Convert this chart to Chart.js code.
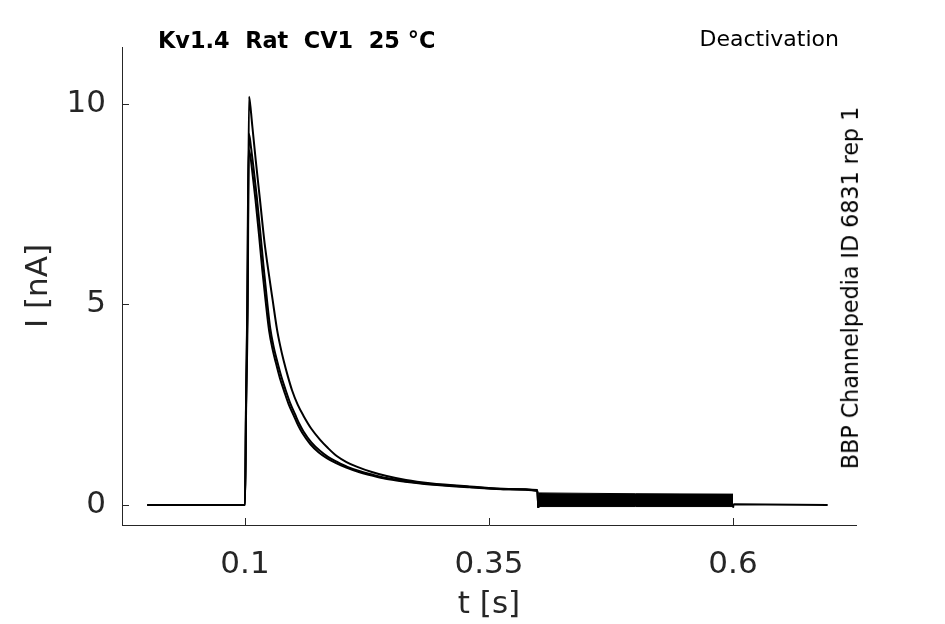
<!DOCTYPE html>
<html>
<head>
<meta charset="utf-8">
<script src="https://cdn.jsdelivr.net/npm/chart.js"></script>
<style>
    body { margin: 0; background: #fff; }
    #wrap { position: relative; width: 945px; height: 624px; font-family: "DejaVu Sans", sans-serif; color: #000; }
    #chart { position: absolute; left: 0; top: 0; }
    .note { position: absolute; white-space: nowrap; line-height: 1; }
    #title { left: 158px; top: 40px; font-size: 22.4px; font-weight: bold; transform: translateY(-50%); }
    #protocol { right: 106px; top: 39px; font-size: 22px; transform: translateY(-50%); }
    #source { left: 850px; top: 288px; font-size: 22.2px; transform: translate(-50%, -50%) rotate(-90deg); }
</style>
</head>
<body>
<div id="wrap">
    <canvas id="chart" width="945" height="624"></canvas>
    <div class="note" id="title">Kv1.4&nbsp; Rat&nbsp; CV1&nbsp; 25 °C</div>
    <div class="note" id="protocol">Deactivation</div>
    <div class="note" id="source">BBP Channelpedia ID 6831 rep 1</div>
</div>
<script>
// Current traces (time in s, current in nA)
const tTraceA = [0, 0.1, 0.1012, 0.1028, 0.1041, 0.1055, 0.1075, 0.1110, 0.1154, 0.1200, 0.1245, 0.1284, 0.1328, 0.1360, 0.1396, 0.1440, 0.1482, 0.1540, 0.1600, 0.1680, 0.1768, 0.1850, 0.1940, 0.2040, 0.2144, 0.2300, 0.2452, 0.2650, 0.2895, 0.3300, 0.3700, 0.3995, 0.4005];
const iTraceA = [0, 0, 2.5, 5.0, 10.18, 9.95, 9.45, 8.60, 7.60, 6.55, 5.75, 5.10, 4.38, 3.98, 3.60, 3.20, 2.86, 2.50, 2.22, 1.90, 1.63, 1.42, 1.22, 1.07, 0.955, 0.82, 0.72, 0.62, 0.54, 0.46, 0.40, 0.37, -0.07];

const tTraceB = [0, 0.1, 0.1010, 0.1024, 0.1041, 0.1060, 0.1090, 0.1120, 0.1155, 0.1190, 0.1225, 0.1259, 0.1295, 0.1328, 0.1370, 0.1413, 0.1460, 0.1515, 0.1555, 0.1598, 0.1680, 0.1768, 0.1850, 0.1940, 0.2050, 0.2178, 0.2300, 0.2452, 0.2650, 0.2895, 0.3300, 0.3700, 0.3995, 0.4005];
const iTraceB = [0, 0, 2.4, 4.8, 9.25, 8.95, 8.35, 7.70, 6.85, 5.95, 5.12, 4.40, 3.93, 3.60, 3.22, 2.89, 2.56, 2.25, 2.03, 1.84, 1.56, 1.35, 1.20, 1.08, 0.95, 0.84, 0.76, 0.67, 0.59, 0.52, 0.45, 0.39, 0.36, -0.07];

const tTraceC = [0, 0.1, 0.1010, 0.1022, 0.1037, 0.1055, 0.1080, 0.1108, 0.1143, 0.1178, 0.1213, 0.1247, 0.1283, 0.1316, 0.1358, 0.1401, 0.1448, 0.1503, 0.1543, 0.1586, 0.1668, 0.1756, 0.1838, 0.1928, 0.2038, 0.2166, 0.2288, 0.2440, 0.2640, 0.2895, 0.3300, 0.3700, 0.3995, 0.4005];
const iTraceC = [0, 0, 2.3, 4.7, 8.85, 8.70, 8.20, 7.60, 6.75, 5.85, 5.05, 4.35, 3.88, 3.55, 3.16, 2.84, 2.51, 2.21, 1.99, 1.80, 1.52, 1.31, 1.17, 1.05, 0.93, 0.82, 0.74, 0.65, 0.58, 0.51, 0.44, 0.39, 0.35, -0.07];

// Noisy band during the deactivation step
const tBand = [0.4005, 0.5, 0.6];
const iBandTop = [0.30, 0.28, 0.27];
const iBandBottom = [-0.04, -0.04, -0.04];

// Back to holding after the step
const tTail = [0.6, 0.6008, 0.697];
const iTail = [-0.07, 0.02, 0.0];

// Axes
const xTicks = [0.1, 0.35, 0.6];
const yTicks = [0, 5, 10];
const xRange = [-0.026, 0.726];
const yRange = [-0.5, 11.42];

const inkColor = '#262626';
const fontFamily = '"DejaVu Sans", sans-serif';

function toPoints(ts, is) {
    return ts.map((t, k) => ({ x: t, y: is[k] }));
}

function traceDataset(ts, is) {
    return {
        data: toPoints(ts, is),
        borderColor: '#000',
        borderWidth: 2,
        pointRadius: 0,
        cubicInterpolationMode: 'monotone',
        borderJoinStyle: 'round',
        fill: false
    };
}

// Small inward tick marks, like the original plot
const inwardTicks = {
    id: 'inwardTicks',
    afterDraw(chart) {
        const { ctx, chartArea, scales } = chart;
        ctx.save();
        ctx.strokeStyle = inkColor;
        ctx.lineWidth = 1;
        ctx.beginPath();
        xTicks.forEach(v => {
            const px = Math.round(scales.x.getPixelForValue(v)) + 0.5;
            ctx.moveTo(px, chartArea.bottom);
            ctx.lineTo(px, chartArea.bottom - 7);
        });
        yTicks.forEach(v => {
            const py = Math.round(scales.y.getPixelForValue(v)) + 0.5;
            ctx.moveTo(chartArea.left, py);
            ctx.lineTo(chartArea.left + 7, py);
        });
        ctx.stroke();
        ctx.restore();
    }
};

function buildChart() {
    const ctx = document.getElementById('chart');

    const bandTop = traceDataset(tBand, iBandTop);
    bandTop.borderWidth = 1;
    const bandBottom = traceDataset(tBand, iBandBottom);
    bandBottom.borderWidth = 1;
    bandBottom.fill = '-1';
    bandBottom.backgroundColor = '#000';

    new Chart(ctx, {
        type: 'line',
        data: {
            datasets: [
                traceDataset(tTraceA, iTraceA),
                traceDataset(tTraceB, iTraceB),
                traceDataset(tTraceC, iTraceC),
                bandTop,
                bandBottom,
                traceDataset(tTail, iTail)
            ]
        },
        options: {
            responsive: false,
            animation: false,
            layout: { padding: { top: 47, right: 89, left: 0, bottom: 0 } },
            plugins: {
                legend: { display: false },
                title: { display: false },
                tooltip: { enabled: false }
            },
            scales: {
                x: {
                    type: 'linear',
                    min: xRange[0],
                    max: xRange[1],
                    afterBuildTicks: scale => { scale.ticks = xTicks.map(v => ({ value: v })); },
                    afterFit: scale => { scale.height = 99; },
                    grid: { display: false, drawTicks: false },
                    border: { display: true, color: inkColor, width: 1 },
                    ticks: {
                        color: inkColor,
                        font: { family: fontFamily, size: 31 },
                        padding: 21,
                        maxRotation: 0,
                        callback: v => String(v)
                    },
                    title: {
                        display: true,
                        text: 't [s]',
                        color: inkColor,
                        font: { family: fontFamily, size: 31 },
                        padding: { top: 0, bottom: 0 }
                    }
                },
                y: {
                    type: 'linear',
                    min: yRange[0],
                    max: yRange[1],
                    afterBuildTicks: scale => { scale.ticks = yTicks.map(v => ({ value: v })); },
                    afterFit: scale => { scale.width = 122; },
                    grid: { display: false, drawTicks: false },
                    border: { display: true, color: inkColor, width: 1 },
                    ticks: {
                        color: inkColor,
                        font: { family: fontFamily, size: 31 },
                        padding: 16,
                        callback: v => String(v)
                    },
                    title: {
                        display: true,
                        text: 'I [nA]',
                        color: inkColor,
                        font: { family: fontFamily, size: 31 },
                        padding: { top: 20, bottom: 0 }
                    }
                }
            }
        },
        plugins: [inwardTicks]
    });
}

document.addEventListener('DOMContentLoaded', buildChart);
</script>
</body>
</html>
